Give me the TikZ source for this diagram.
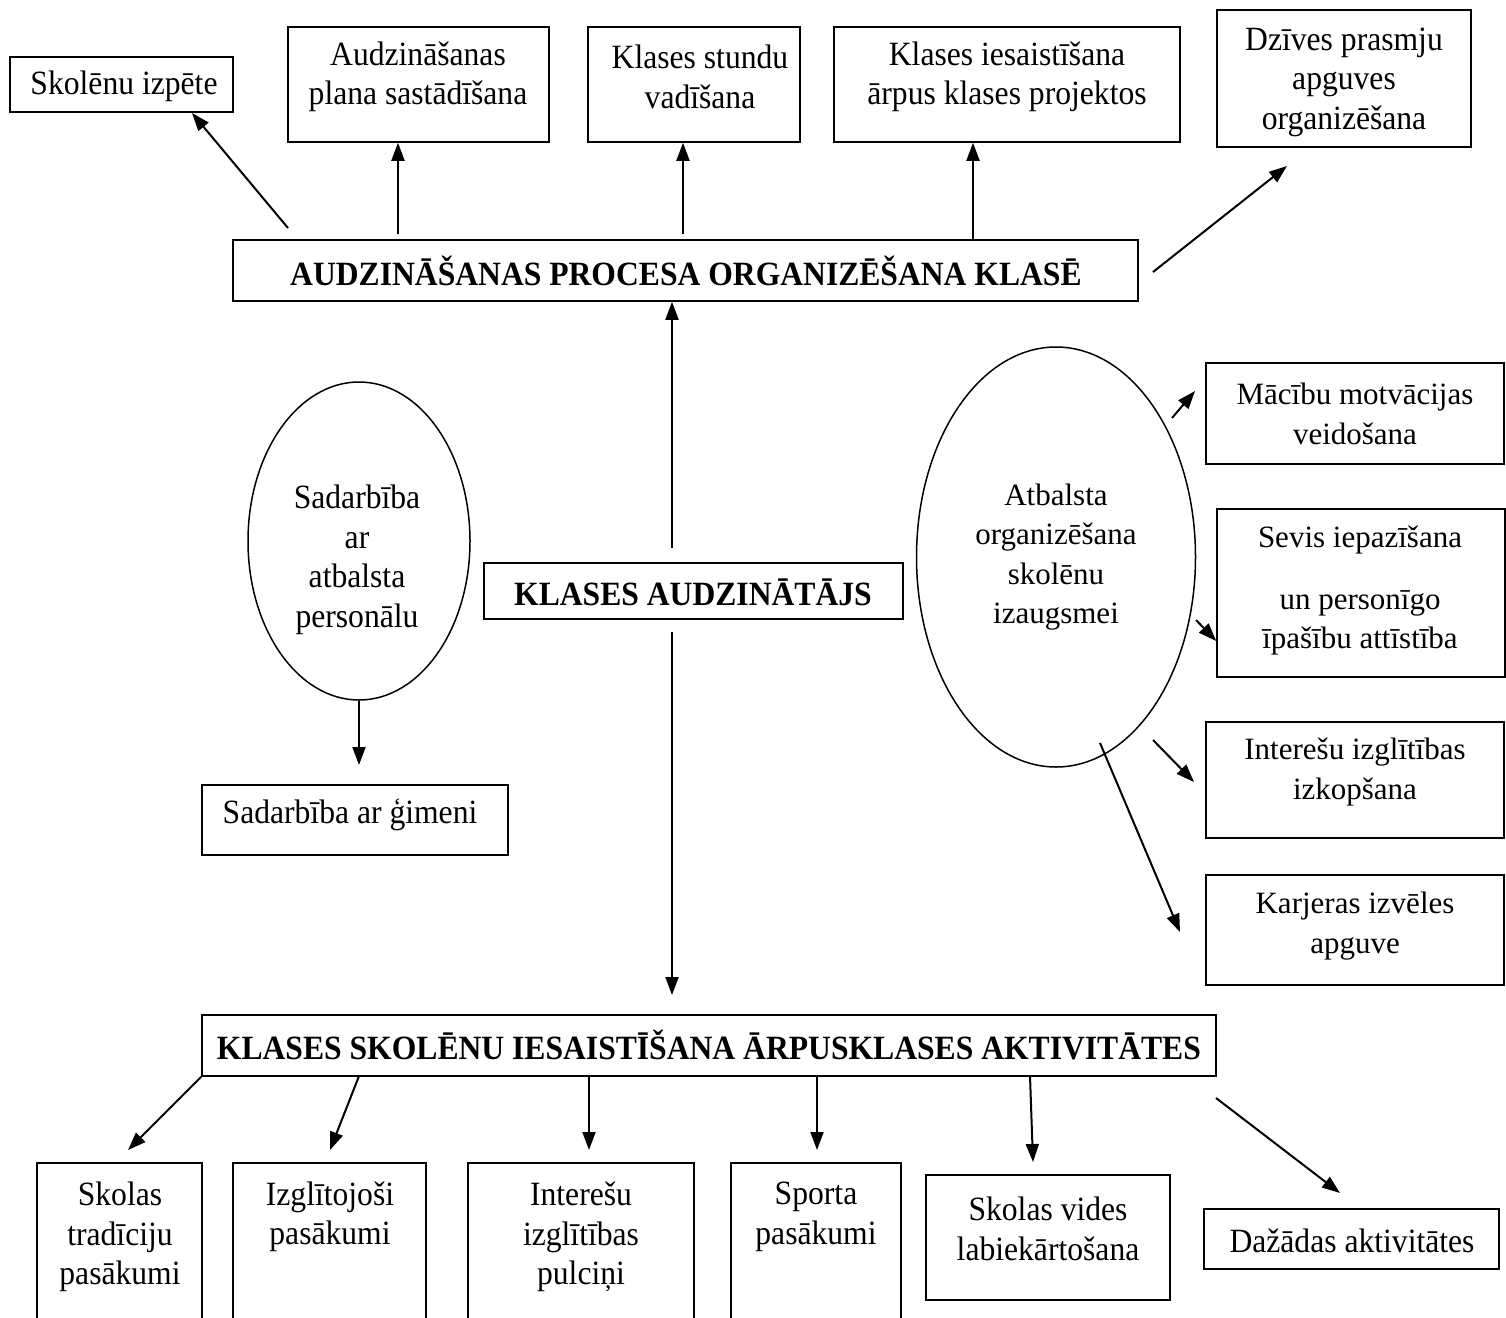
\documentclass[tikz,border=0pt]{standalone}
\usepackage{fontspec}
\setmainfont[FakeStretch=0.93]{Liberation Serif}
\newfontfamily\widefont{Liberation Serif}
\usetikzlibrary{arrows.meta,shapes.geometric,fit,calc}
\begin{document}
\begin{tikzpicture}[x=1pt,y=-1pt,
  every node/.style={font=\fontsize{34}{39.5}\selectfont},
  box/.style={draw, line width=1.5pt, inner sep=0pt},
  oval/.style={draw, line width=1.5pt, ellipse, inner sep=0pt},
  txt/.style={align=center, inner sep=0pt},
  wtxt/.style={align=center, inner sep=0pt, font=\widefont\fontsize{31}{39.5}\selectfont},
  btxt/.style={align=center, inner sep=0pt, font=\fontsize{34}{39.5}\selectfont\bfseries},
  arr/.style={line width=2pt, -{Triangle[length=18pt,width=13pt]}}]
\useasboundingbox (0,0) rectangle (1506,1317);
\clip (0,0) rectangle (1506,1317);

% ---------- top row ----------
\node[box, fit={(10,57)(233,112)}] (bSkol) {};
\node[txt] (tSkol) at (124,86) {Skolēnu izpēte};
\node[box, fit={(288,27)(549,142)}] (bAud) {};
\node[txt] (tAud) at (418,77) {Audzināšanas\\plana sastādīšana};
\node[box, fit={(588,27)(800,142)}] (bKst) {};
\node[txt] (tKst) at (700,77) {Klases stundu\\vadīšana};
\node[box, fit={(834,27)(1180,142)}] (bKia) {};
\node[txt] (tKia) at (1007,77) {Klases iesaistīšana\\ārpus klases projektos};
\node[box, fit={(1217,10)(1471,147)}] (bDz) {};
\node[txt] (tDz) at (1344,82) {Dzīves prasmju\\apguves\\organizēšana};

% ---------- main boxes ----------
\node[box, fit={(233,240)(1138,301)}] (bProc) {};
\node[btxt] (tProc) at (686,271) {AUDZINĀŠANAS PROCESA ORGANIZĒŠANA KLASĒ};
\node[box, fit={(484,563)(903,619)}] (bKla) {};
\node[btxt] (tKla) at (693,592) {KLASES AUDZINĀTĀJS};
\node[box, fit={(202,1015)(1216,1076)}] (bIes) {};
\node[btxt] (tIes) at (709,1045) {KLASES SKOLĒNU IESAISTĪŠANA ĀRPUSKLASES AKTIVITĀTES};

% ---------- left ellipse ----------
\node[oval, minimum width=222pt, minimum height=318pt] (eL) at (359,541) {};
\node[txt] (teL) at (357,560) {Sadarbība\\ar\\atbalsta\\personālu};
\node[box, fit={(202,785)(508,855)}] (bGim) {};
\node[txt] (tGim) at (350,815) {Sadarbība ar ģimeni};

% ---------- right ellipse ----------
\node[oval, minimum width=279pt, minimum height=420pt] (eR) at (1056,557) {};
\node[wtxt] (teR) at (1056,557) {Atbalsta\\organizēšana\\skolēnu\\izaugsmei};
\node[box, fit={(1206,363)(1504,464)}] (r1) {};
\node[wtxt] (tr1) at (1355,414) {Mācību motvācijas\\veidošana};
\node[box, fit={(1217,509)(1505,677)}] (r2) {};
\node[wtxt] (tr2) at (1360,591) {Sevis iepazīšana\\[22pt]un personīgo\\īpašību attīstība};
\node[box, fit={(1206,722)(1504,838)}] (r3) {};
\node[wtxt] (tr3) at (1355,772) {Interešu izglītības\\izkopšana};
\node[box, fit={(1206,875)(1504,985)}] (r4) {};
\node[wtxt] (tr4) at (1355,926) {Karjeras izvēles\\apguve};

% ---------- bottom row ----------
\node[box, fit={(37,1163)(202,1335)}] (c1) {};
\node[txt] (tc1) at (120,1237) {Skolas\\tradīciju\\pasākumi};
\node[box, fit={(233,1163)(426,1335)}] (c2) {};
\node[txt] (tc2) at (330,1217) {Izglītojoši\\pasākumi};
\node[box, fit={(468,1163)(694,1335)}] (c3) {};
\node[txt] (tc3) at (581,1237) {Interešu\\izglītības\\pulciņi};
\node[box, fit={(731,1163)(901,1335)}] (c4) {};
\node[txt] (tc4) at (816,1217) {Sporta\\pasākumi};
\node[box, fit={(926,1175)(1170,1300)}] (c5) {};
\node[txt] (tc5) at (1048,1229) {Skolas vides\\labiekārtošana};
\node[box, fit={(1204,1209)(1499,1269)}] (c6) {};
\node[txt] (tc6) at (1352,1241) {Dažādas aktivitātes};

% ---------- free arrow ends ----------
\coordinate (s1) at (288,228);
\coordinate (s2) at (398,234);
\coordinate (s3) at (683,234);
\coordinate (s4) at (973,240);
\coordinate (s5) at (1153,272);
\coordinate (e5) at (1287,166);
\coordinate (k1) at (672,548);
\coordinate (k2) at (672,632);
\coordinate (k2e) at (672,995);
\coordinate (g1e) at (359,765);
\coordinate (q1) at (1172,418);
\coordinate (q2) at (1196,620);
\coordinate (q3) at (1153,740);
\coordinate (q3e) at (1194,782);
\coordinate (q4) at (1100,743);
\coordinate (q4e) at (1180,932);
\coordinate (m1e) at (128,1150);
\coordinate (m2) at (359,1076);
\coordinate (m2e) at (330,1150);
\coordinate (m3) at (589,1076);
\coordinate (m3e) at (589,1150);
\coordinate (m4) at (817,1076);
\coordinate (m4e) at (817,1150);
\coordinate (m5) at (1030,1076);
\coordinate (m5e) at (1033,1162);
\coordinate (m6) at (1216,1098);
\coordinate (m6e) at (1340,1193);

% ---------- connectors ----------
\draw[arr] (s1) -- (192,113);
\draw[arr] (s2) -- (s2 |- bAud.south);
\draw[arr] (s3) -- (s3 |- bKst.south);
\draw[arr] (s4) -- (s4 |- bKia.south);
\draw[arr] (s5) -- (e5);
\draw[arr] (k1) -- (k1 |- bProc.south);
\draw[arr] (k2) -- (k2e);
\draw[arr] (eL.south) -- (g1e);
\draw[arr] (q1) -- (1195,391);
\draw[arr] (q2) -- ($(r2.west |- q2)+(0,21)$);
\draw[arr] (q3) -- (q3e);
\draw[arr] (q4) -- (q4e);
\draw[arr] (bIes.south west) -- (m1e);
\draw[arr] (m2) -- (m2e);
\draw[arr] (m3) -- (m3e);
\draw[arr] (m4) -- (m4e);
\draw[arr] (m5) -- (m5e);
\draw[arr] (m6) -- (m6e);
\end{tikzpicture}
\end{document}
